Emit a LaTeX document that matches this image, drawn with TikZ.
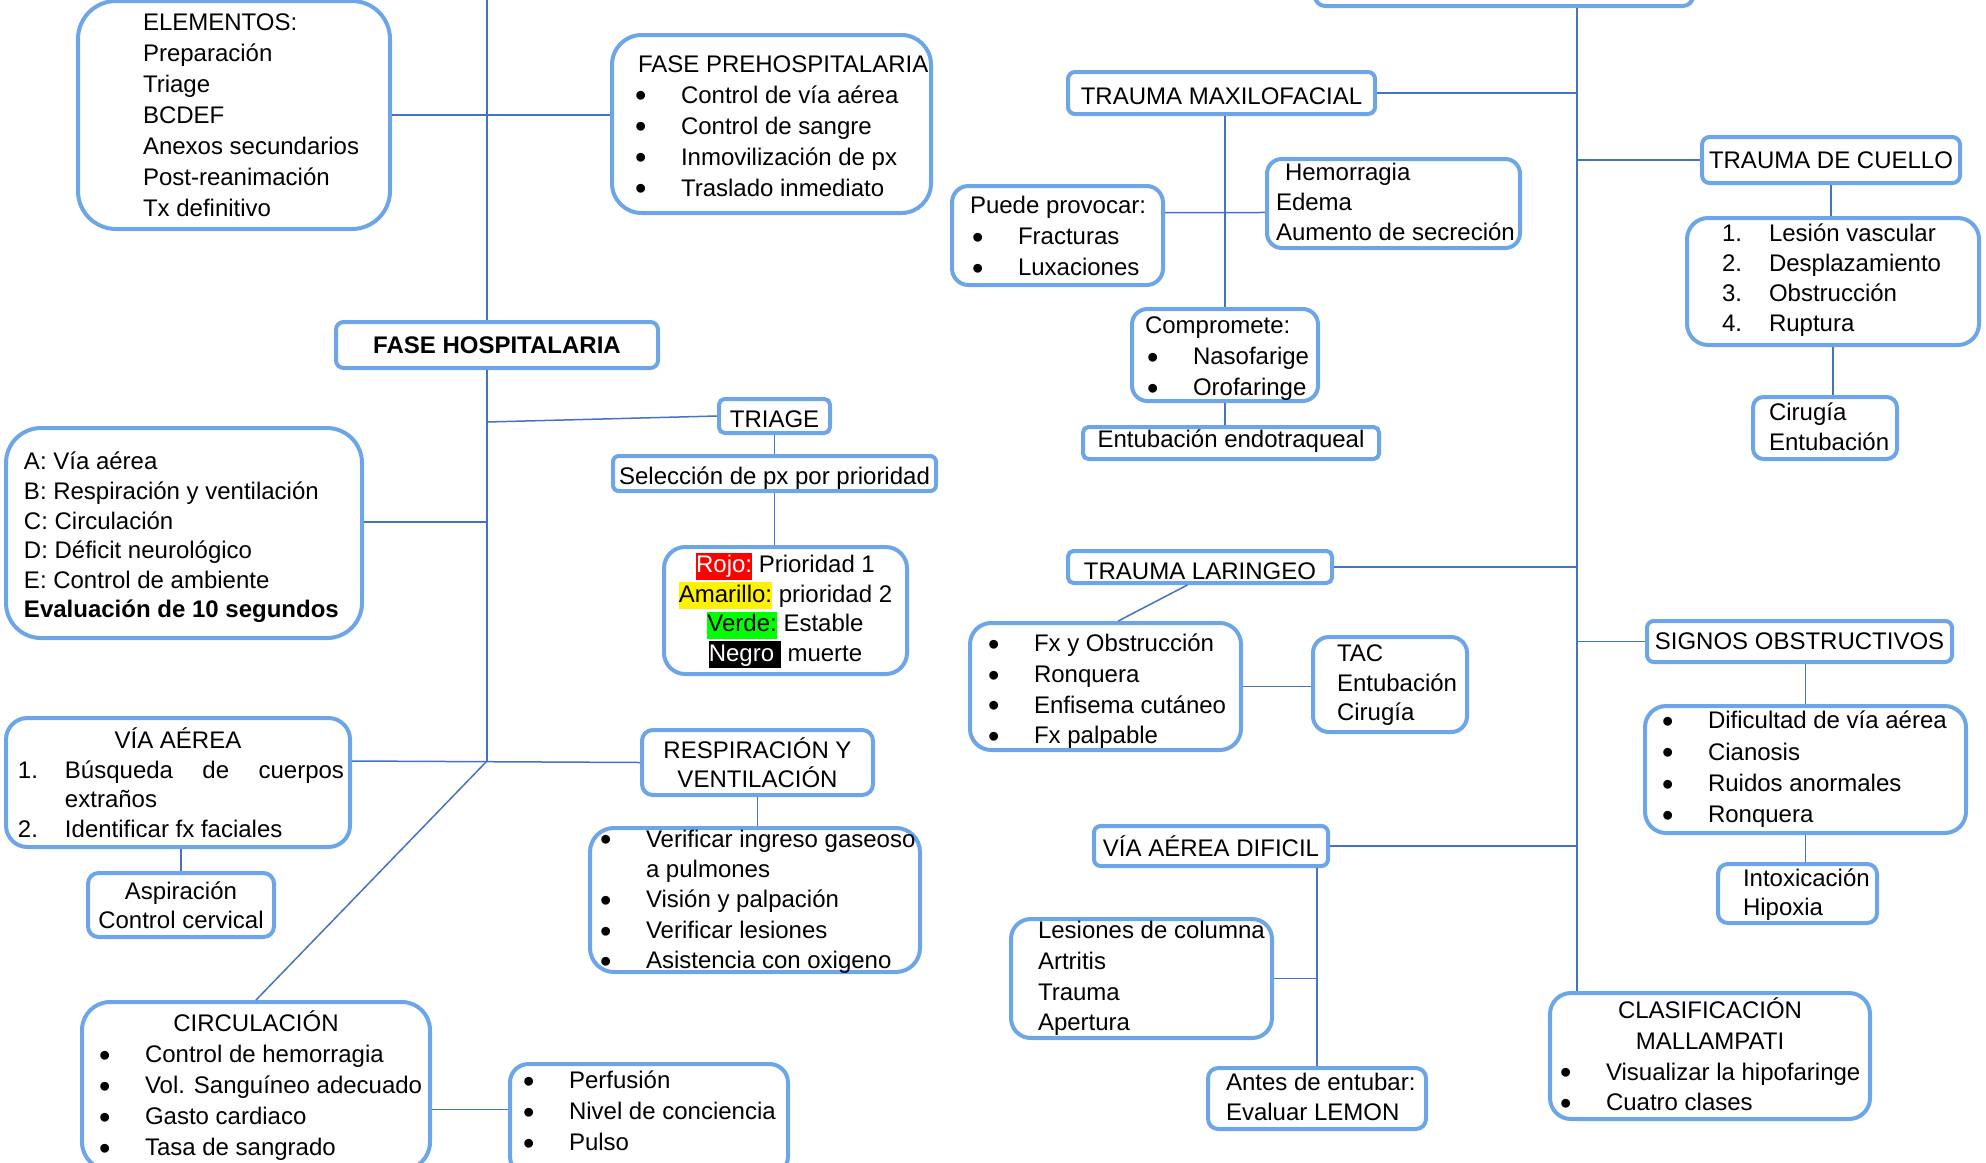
\documentclass[tikz,border=0pt]{standalone}
\usepackage{fontspec}
\setmainfont{Liberation Sans}
\usepackage{xcolor}
\usepackage{tikz}
\definecolor{bordeazul}{RGB}{108,166,232}
\definecolor{lineaazul}{RGB}{68,114,196}
\setlength{\fboxsep}{0pt}
\newcommand{\vineta}[1]{\makebox[21.5pt][l]{\hspace*{-1.5pt}\raisebox{-1.9pt}{\scalebox{1.35}{\textbullet}}}#1}
\newcommand{\numero}[2]{\makebox[23.5pt][l]{#1.}#2}
\newcommand{\resalta}[3]{\colorbox{#1}{\rule[-3.5pt]{0pt}{13.5pt}\textcolor{#2}{#3}}}
% bloque de texto a la izquierda, centrado en vertical y bajado #1
\newcommand{\bloque}[3][1.2pt]{\vbox to 0pt{\vss\hbox{\makebox[#2][l]{\begin{tabular}{@{}l@{}}#3\end{tabular}}}\vss\kern-2\dimexpr#1\relax}}

\begin{document}
\begin{tikzpicture}[x=0.5pt,y=-0.5pt]
\tikzset{
    caja/.style  = {draw=bordeazul, line width=2pt, inner xsep=0pt, inner ysep=0pt, font=\fontsize{12}{15.3}\selectfont},
    cajac/.style = {caja, align=center},
    linea/.style = {draw=lineaazul, line width=0.75pt}
}
\useasboundingbox (0,0) rectangle (1986,1162);
\clip (0,0) rectangle (1986,1162);

% lado izquierdo
\node[caja, font=\fontsize{12}{15.5}\selectfont, minimum width=156pt, minimum height=114pt, inner xsep=32.5pt, rounded corners=19pt] (elem) at (234,115)
   {\bloque[0.9pt]{91pt}{ELEMENTOS:\\ Preparación\\ Triage\\ BCDEF\\ Anexos secundarios\\ Post-reanimación\\ Tx definitivo}};
\node[caja, font=\fontsize{12}{15.5}\selectfont, minimum width=159.5pt, minimum height=89pt, inner xsep=13pt, rounded corners=14.8pt] (pre) at (771.5,124)
   {\bloque[1.9pt]{133.5pt}{FASE PREHOSPITALARIA\\ \vineta{Control de vía aérea}\\ \vineta{Control de sangre}\\ \vineta{Inmovilización de px}\\ \vineta{Traslado inmediato}}};
\node[cajac, minimum width=161pt, minimum height=23pt, rounded corners=3.8pt] (hosp) at (497,345) {\textbf{FASE HOSPITALARIA}};
\node[cajac, minimum width=55.5pt, minimum height=17pt, text height=11pt, text depth=0pt, rounded corners=2.8pt] (tri) at (774.5,416) {TRIAGE};
\node[cajac, minimum width=161.5pt, minimum height=17.5pt, text height=11.1pt, text depth=0pt, rounded corners=2.9pt] (sel) at (774.5,473.5) {Selección de px por prioridad};
\node[cajac, font=\fontsize{12}{14.8}\selectfont, minimum width=121.5pt, minimum height=63.5pt, rounded corners=10.6pt] (col) at (785.5,610.5)
   {\resalta{red}{white}{Rojo:} Prioridad 1\\ \resalta{yellow}{black}{Amarillo:} prioridad 2\\ \resalta{green}{black}{Verde:} Estable\\ \resalta{black}{white}{Negro\ } muerte};
\node[caja, font=\fontsize{12}{14.8}\selectfont, minimum width=178pt, minimum height=105pt, inner xsep=9pt, rounded corners=17.5pt] (abc) at (184,533)
   {\bloque[2.5pt]{160pt}{A: Vía aérea\\ B: Respiración y ventilación\\ C: Circulación\\ D: Déficit neurológico\\ E: Control de ambiente\\ \textbf{Evaluación de 10 segundos}}};
\node[caja, font=\fontsize{12}{14.8}\selectfont, minimum width=172pt, minimum height=64.5pt, inner xsep=6pt, rounded corners=10.75pt] (via) at (178,782.5)
   {\bloque[2.2pt]{160pt}{\makebox[160pt][c]{VÍA AÉREA}\\ \numero{1}{\makebox[139.5pt][s]{Búsqueda de cuerpos}}\\ \hspace*{23.5pt}extraños\\ \numero{2}{Identificar fx faciales}}};
\node[cajac, font=\fontsize{12}{14.5}\selectfont, minimum width=93pt, minimum height=32pt, rounded corners=5.3pt] (asp) at (181,905) {Aspiración\\ Control cervical};
\node[cajac, font=\fontsize{12}{14.5}\selectfont, minimum width=115.5pt, minimum height=32.5pt, rounded corners=5.4pt] (resp) at (757.5,762.5) {RESPIRACIÓN Y\\ VENTILACIÓN};
\node[caja, font=\fontsize{12}{15.2}\selectfont, minimum width=165pt, minimum height=72pt, inner xsep=6.5pt, rounded corners=12pt] (respl) at (755,900)
   {\bloque[0.9pt]{152pt}{\vineta{Verificar ingreso gaseoso}\\ \hspace*{21.5pt}a pulmones\\ \vineta{Visión y palpación}\\ \vineta{Verificar lesiones}\\ \vineta{Asistencia con oxigeno}}};
\node[caja, font=\fontsize{12}{15.5}\selectfont, minimum width=174pt, minimum height=84pt, inner xsep=10pt, rounded corners=14pt] (circ) at (256,1086)
   {\bloque[0.6pt]{154pt}{\makebox[154pt][c]{CIRCULACIÓN}\\ \vineta{Control de hemorragia}\\ \vineta{Vol. Sanguíneo adecuado}\\ \vineta{Gasto cardiaco}\\ \vineta{Tasa de sangrado}}};
\node[caja, font=\fontsize{12}{15.5}\selectfont, minimum width=139pt, minimum height=55.5pt, inner xsep=8pt, rounded corners=9.25pt] (perf) at (649,1119.5)
   {\bloque[1.3pt]{123pt}{\vineta{Perfusión}\\ \vineta{Nivel de conciencia}\\ \vineta{Pulso}\\[8.5pt]}};

% lado derecho
\node[caja, minimum width=189pt, minimum height=30pt, rounded corners=5pt] (raiz) at (1504,-24) {};
\node[cajac, minimum width=153.5pt, minimum height=21pt, text height=11.8pt, text depth=0pt, rounded corners=3.5pt] (maxi) at (1221.5,93) {TRAUMA MAXILOFACIAL};
\node[cajac, minimum width=129pt, minimum height=23pt, rounded corners=3.8pt] (cuello) at (1831,160) {TRAUMA DE CUELLO};
\node[caja, font=\fontsize{12}{15}\selectfont, minimum width=146pt, minimum height=63.5pt, inner xsep=17.5pt, rounded corners=10.6pt] (lesion) at (1833,281.5)
   {\bloque[-0.6pt]{111pt}{\numero{1}{Lesión vascular}\\ \numero{2}{Desplazamiento}\\ \numero{3}{Obstrucción}\\ \numero{4}{Ruptura}}};
\node[caja, font=\fontsize{12}{15.2}\selectfont, minimum width=72pt, minimum height=31pt, inner xsep=8pt, rounded corners=5.2pt] (cirugia) at (1825,428)
   {\bloque[0.6pt]{56pt}{Cirugía\\ Entubación}};
\node[caja, font=\fontsize{12}{15.5}\selectfont, minimum width=105.5pt, minimum height=49.5pt, inner xsep=9pt, rounded corners=8.25pt] (puede) at (1057.5,235.5)
   {\bloque[1.6pt]{87.5pt}{Puede provocar:\\ \hspace*{2.5pt}\vineta{Fracturas}\\ \hspace*{2.5pt}\vineta{Luxaciones}}};
\node[caja, font=\fontsize{12}{14.9}\selectfont, minimum width=126.5pt, minimum height=44.5pt, inner xsep=4.5pt, rounded corners=7.4pt] (hemo) at (1393.5,203.5)
   {\bloque[0.6pt]{117.5pt}{\hspace*{4.5pt}Hemorragia\\ Edema\\ Aumento de secreción}};
\node[caja, font=\fontsize{12}{15.5}\selectfont, minimum width=93pt, minimum height=46pt, inner xsep=6.5pt, rounded corners=7.7pt] (comp) at (1225,355)
   {\bloque[1.6pt]{80pt}{Compromete:\\ \hspace*{2.5pt}\vineta{Nasofarige}\\ \hspace*{2.5pt}\vineta{Orofaringe}}};
\node[cajac, minimum width=148pt, minimum height=16pt, text height=9.2pt, text depth=4.6pt, rounded corners=2.7pt] (entub) at (1231,443) {Entubación endotraqueal};
\node[cajac, minimum width=132pt, minimum height=16pt, text height=12.1pt, text depth=0pt, rounded corners=2.7pt] (lar) at (1200,567) {TRAUMA LARINGEO};
\node[caja, font=\fontsize{12}{15.4}\selectfont, minimum width=135.5pt, minimum height=63.5pt, inner xsep=10.5pt, rounded corners=10.6pt] (fx) at (1105.5,686.5)
   {\bloque[2.5pt]{114.5pt}{\vineta{Fx y Obstrucción}\\ \vineta{Ronquera}\\ \vineta{Enfisema cutáneo}\\ \vineta{Fx palpable}}};
\node[caja, font=\fontsize{12}{14.9}\selectfont, minimum width=77pt, minimum height=47.5pt, inner xsep=12pt, rounded corners=7.9pt] (tac) at (1390,684.5)
   {\bloque[0.3pt]{53pt}{TAC\\ Entubación\\ Cirugía}};
\node[cajac, minimum width=152.5pt, minimum height=20.5pt, rounded corners=3.4pt] (signos) at (1799.5,641.5) {SIGNOS OBSTRUCTIVOS};
\node[caja, font=\fontsize{12}{15.6}\selectfont, minimum width=160.5pt, minimum height=63.5pt, inner xsep=10pt, rounded corners=10.6pt] (dif) at (1805.5,769.5)
   {\bloque[0pt]{140.5pt}{\vineta{Dificultad de vía aérea}\\ \vineta{Cianosis}\\ \vineta{Ruidos anormales}\\ \vineta{Ronquera}}};
\node[caja, font=\fontsize{12}{14.5}\selectfont, minimum width=79.5pt, minimum height=29.5pt, inner xsep=12.5pt, rounded corners=4.9pt] (intox) at (1797.5,893.5)
   {\bloque[0.9pt]{54.5pt}{Intoxicación\\ Hipoxia}};
\node[cajac, minimum width=117pt, minimum height=20pt, rounded corners=3.3pt] (dificil) at (1211,846) {VÍA AÉREA DIFICIL};
\node[caja, font=\fontsize{12}{15.4}\selectfont, minimum width=130.5pt, minimum height=59.5pt, inner xsep=13.5pt, rounded corners=9.9pt] (lesiones) at (1141.5,978.5)
   {\bloque[0pt]{103.5pt}{Lesiones de columna\\ Artritis\\ Trauma\\ Apertura}};
\node[caja, font=\fontsize{12}{15.2}\selectfont, minimum width=109pt, minimum height=30.5pt, inner xsep=9pt, rounded corners=5.1pt] (antes) at (1317,1098.5)
   {\bloque[0.6pt]{91pt}{Antes de entubar:\\ Evaluar LEMON}};
\node[caja, font=\fontsize{12}{15.4}\selectfont, minimum width=160pt, minimum height=63pt, inner xsep=6.5pt, rounded corners=10.5pt] (clas) at (1710,1056)
   {\bloque[1.3pt]{147pt}{\makebox[147pt][c]{CLASIFICACIÓN}\\ \makebox[147pt][c]{MALLAMPATI}\\ \vineta{Visualizar la hipofaringe}\\ \vineta{Cuatro clases}}};

% troncos
\coordinate (lx) at (487,-5);
\coordinate (ltri) at (487,422);
\coordinate (labc) at (487,522);
\coordinate (lj) at (487,761);
\coordinate (rx) at (1577,0);

\draw[linea] (lx) -- (lx |- hosp.north);
\draw[linea] (lx |- hosp.south) -- (lj);
\draw[linea] (lj) -- (circ.north);
\draw[linea] (elem.east) -- (pre.west |- elem.east);
\draw[linea] (ltri) -- (tri.west);
\draw[linea] (tri.south) -- (sel.north);
\draw[linea] (sel.south) -- (sel.south |- col.north);
\draw[linea] (labc) -- (labc -| abc.east);
\draw[linea] (via.east |- lj) -- (resp.west);
\draw[linea] (asp.north) -- (asp.north |- via.south);
\draw[linea] (resp.south) -- (resp.south |- respl.north);
\draw[linea] (perf.176) -- (perf.176 -| circ.east);

\draw[linea] (raiz.south -| rx) -- (clas.north -| rx);
\draw[linea] (maxi.east) -- (maxi.east -| rx);
\draw[linea] (cuello.west) -- (cuello.west -| rx);
\draw[linea] (lar.east) -- (lar.east -| rx);
\draw[linea] (signos.west) -- (signos.west -| rx);
\draw[linea] (dificil.east) -- (dificil.east -| rx);
\draw[linea] (cuello.south) -- (cuello.south |- lesion.north);
\draw[linea] (lesion.south) -- (lesion.south |- cirugia.north);
\draw[linea] (comp.north) -- (comp.north |- maxi.south);
\draw[linea] (puede.12) -- (hemo.184);
\draw[linea] (comp.south) -- (comp.south |- entub.north);
\draw[linea] (lar.235.5) -- (fx.79);
\draw[linea] (fx.east) -- (fx.east -| tac.west);
\draw[linea] (dif.north) -- (dif.north |- signos.south);
\draw[linea] (dif.south) -- (dif.south |- intox.north);
\draw[linea] (antes.north) -- (antes.north |- dificil.south);
\draw[linea] (lesiones.east) -- (lesiones.east -| antes.north);
\end{tikzpicture}
\end{document}
